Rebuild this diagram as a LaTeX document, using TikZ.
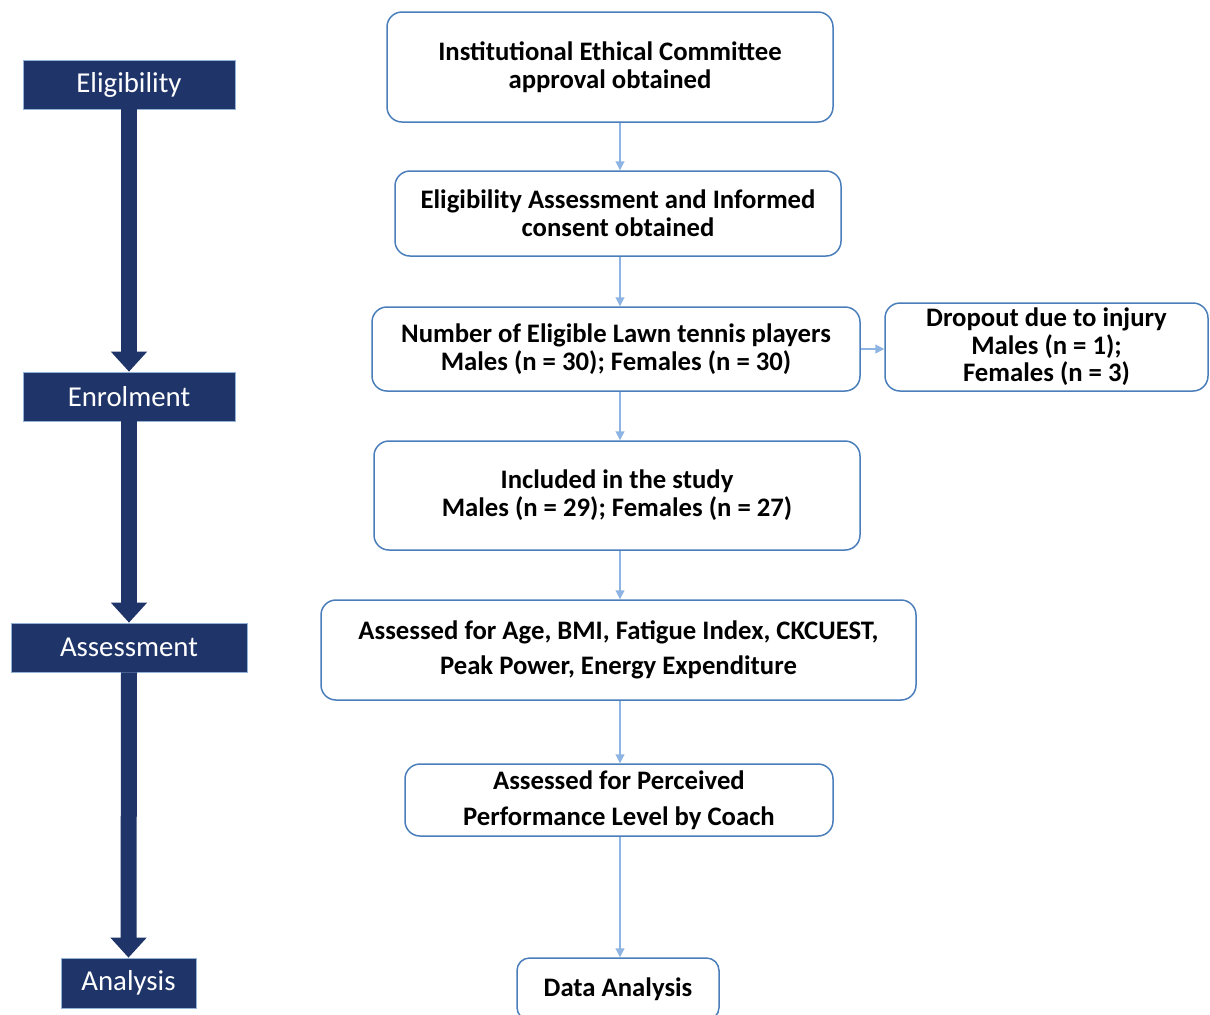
\documentclass[tikz,border=0pt]{standalone}
\usepackage{fontspec}
\setmainfont{Carlito}
\usetikzlibrary{arrows.meta}
\definecolor{navy}{HTML}{1F3468}
\definecolor{boxline}{HTML}{4A7EBB}
\definecolor{conn}{HTML}{8DB4E2}
\tikzset{
  stage/.style={draw=boxline!60, line width=0.4pt, fill=navy, text=white, inner sep=0pt,
    font=\fontsize{16.4}{19}\selectfont},
  flowbox/.style={draw=boxline, line width=0.85pt, rounded corners=0.3cm, inner sep=0pt,
    align=center, font=\bfseries\fontsize{15.2}{15.9}\selectfont},
  thick arrow/.style={navy, line width=0.32cm, -{Triangle[width=0.7cm,length=0.4cm]}},
  thin arrow/.style={conn, line width=0.6pt, -{Triangle[width=5pt,length=5pt]}}
}
\begin{document}
\begin{tikzpicture}
\useasboundingbox (0,0) rectangle (24.2,-20.28);
% left stage boxes
\node[stage, minimum width=4.24cm, minimum height=0.98cm] (s1) at (2.58,-1.69) {Eligibility};
\node[stage, minimum width=4.24cm, minimum height=0.98cm] (s2) at (2.58,-7.93) {Enrolment};
\node[stage, minimum width=4.72cm, minimum height=0.98cm] (s3) at (2.58,-12.95) {Assessment};
\node[stage, minimum width=2.7cm, minimum height=1.0cm] (s4) at (2.57,-19.66) {Analysis};
\draw[thick arrow] (s1.south) -- (s2.north);
\draw[thick arrow] (s2.south) -- (s3.north);
\draw[thick arrow] (s3.south) -- (s4.north);
% flow boxes
\node[flowbox, minimum width=8.92cm, minimum height=2.2cm] (b1) at (12.2,-1.34)
  {Institutional Ethical Committee\\approval obtained};
\node[flowbox, minimum width=8.92cm, minimum height=1.7cm] (b2) at (12.36,-4.27)
  {Eligibility Assessment and Informed\\consent obtained};
\node[flowbox, minimum width=9.76cm, minimum height=1.68cm] (b3) at (12.32,-6.98)
  {Number of Eligible Lawn tennis players\\Males (n = 30); Females (n = 30)};
\node[flowbox, minimum width=6.46cm, minimum height=1.76cm, font=\bfseries\fontsize{15.2}{15.6}\selectfont] (d) at (20.93,-6.94)
  {Dropout due to injury\\Males (n = 1);\\Females (n = 3)};
\node[flowbox, minimum width=9.72cm, minimum height=2.18cm] (b4) at (12.34,-9.91)
  {Included in the study\\Males (n = 29); Females (n = 27)};
\node[flowbox, minimum width=11.9cm, minimum height=2.0cm, font=\bfseries\fontsize{15.2}{19.8}\selectfont] (b5) at (12.37,-13.0)
  {Assessed for Age, BMI, Fatigue Index, CKCUEST,\\Peak Power, Energy Expenditure};
\node[flowbox, minimum width=8.56cm, minimum height=1.44cm, font=\bfseries\fontsize{15.2}{20.4}\selectfont] (b6) at (12.38,-16.0)
  {Assessed for Perceived\\Performance Level by Coach};
\node[flowbox, minimum width=4.04cm, minimum height=1.24cm, rounded corners=0.25cm] (b7) at (12.36,-19.78)
  {Data Analysis};
% connectors
\coordinate (X) at (12.4,0);
\draw[thin arrow] (b1.south -| X) -- (b2.north -| X);
\draw[thin arrow] (b2.south -| X) -- (b3.north -| X);
\draw[thin arrow] (b3.south -| X) -- (b4.north -| X);
\draw[thin arrow] (b4.south -| X) -- (b5.north -| X);
\draw[thin arrow] (b5.south -| X) -- (b6.north -| X);
\draw[thin arrow] (b6.south -| X) -- (b7.north -| X);
\draw[thin arrow] (b3.east) -- (b3.east -| d.west);
\end{tikzpicture}
\end{document}
